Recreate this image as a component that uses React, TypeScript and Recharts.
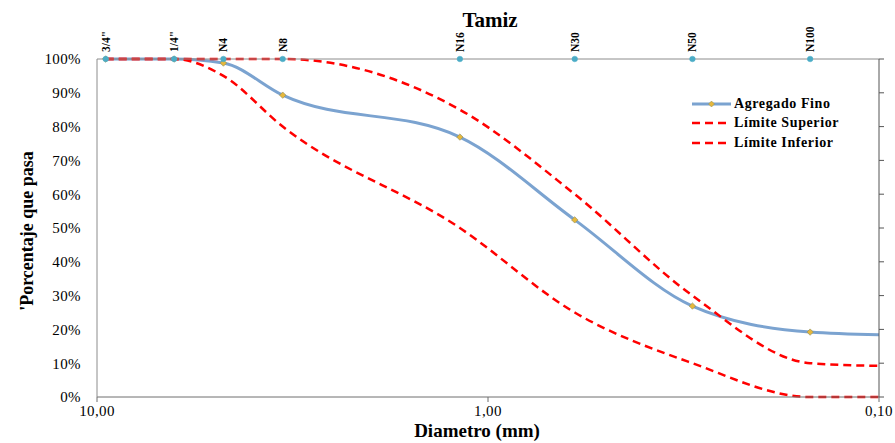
import React from 'react';
import { ComposedChart, Line, XAxis, YAxis, Legend, Customized } from 'recharts';

// Sieve sizes (mm) and names shown on the top axis
const sieveSizes = [9.5, 6.35, 4.75, 3.35, 1.18, 0.6, 0.3, 0.15];
const sieveNames = ['3/4"', '1/4"', 'N4', 'N8', 'N16', 'N30', 'N50', 'N100'];

// Diameters (mm) where the curves are sampled
const diameters = [9.5, 6.35, 4.75, 3.35, 1.18, 0.6, 0.3, 0.15, 0.1];
const agregadoFino = [100, 100, 98.8, 89.3, 76.9, 52.4, 26.9, 19.2, 18.4];
const limiteSuperior = [100, 100, 100, 100, 85, 60, 30, 10, 9.2];
const limiteInferior = [100, 100, 95, 80, 50, 25, 10, 0, 0];
const tamizMarker = [100, 100, 100, 100, 100, 100, 100, 100, null];

const xTicks = [10, 1, 0.1];
const yTicks = [0, 10, 20, 30, 40, 50, 60, 70, 80, 90, 100];

const data = diameters.map((d, i) => ({
  d,
  fino: agregadoFino[i],
  sup: limiteSuperior[i],
  inf: limiteInferior[i],
  tamiz: tamizMarker[i],
}));

const legendItems = [
  { name: 'Agregado Fino', color: '#7ba3d0', dashed: false },
  { name: 'Límite Superior', color: '#ff0000', dashed: true },
  { name: 'Límite Inferior', color: '#ff0000', dashed: true },
];

const SERIF = '"Liberation Serif", "Times New Roman", serif';

const TopTick = (props: any) => {
  const { x, payload } = props;
  const idx = sieveSizes.indexOf(payload.value);
  const label = idx >= 0 ? sieveNames[idx] : '';
  const y = 52;
  return (
    <text
      x={x}
      y={y}
      transform={`rotate(-90, ${x}, ${y})`}
      textAnchor="start"
      dominantBaseline="central"
      fontFamily={SERIF}
      fontWeight="bold"
      fontSize={11.5}
      fill="#000"
    >
      {label}
    </text>
  );
};

const FinoDot = (props: any) => {
  const { cx, cy, index } = props;
  if (index === diameters.length - 1 || cx == null) return <g key={`fd-${index}`} />;
  return (
    <path
      key={`fd-${index}`}
      d={`M${cx},${cy - 3.2} L${cx + 3.2},${cy} L${cx},${cy + 3.2} L${cx - 3.2},${cy} Z`}
      fill="#e6b83c"
      stroke="#8a8a5a"
      strokeWidth={0.6}
    />
  );
};

const LegendContent = () => (
  <div style={{ fontFamily: SERIF }}>
    {legendItems.map((it) => (
      <div key={it.name} style={{ display: 'flex', alignItems: 'center', height: 19.5 }}>
        <svg width={42} height={10} style={{ display: 'block' }}>
          <line
            x1={1}
            y1={5}
            x2={40}
            y2={5}
            stroke={it.color}
            strokeWidth={it.dashed ? 2.5 : 3}
            strokeDasharray={it.dashed ? '8 5' : undefined}
          />
          {!it.dashed && (
            <path d="M20.5,2 L23.5,5 L20.5,8 L17.5,5 Z" fill="#e6b83c" stroke="#8a8a5a" strokeWidth={0.5} />
          )}
        </svg>
        <span style={{ fontWeight: 'bold', fontSize: 14, letterSpacing: 0.6, color: '#000', marginLeft: 1 }}>
          {it.name}
        </span>
      </div>
    ))}
  </div>
);

const Titles = () => (
  <g fontFamily={SERIF} fontWeight="bold" fill="#000">
    <text x={490} y={27} textAnchor="middle" fontSize={21}>
      Tamiz
    </text>
    <text x={477} y={437} textAnchor="middle" fontSize={19}>
      Diametro (mm)
    </text>
    <text
      x={27}
      y={231}
      transform="rotate(-90, 27, 231)"
      textAnchor="middle"
      dominantBaseline="central"
      fontSize={18}
    >
      'Porcentaje que pasa
    </text>
  </g>
);

export default function App() {
  return (
    <div style={{ position: 'absolute', left: 0, top: 0, width: 895, height: 443, background: '#fff' }}>
      <ComposedChart width={895} height={443} data={data} margin={{ top: 0, right: 0, left: 0, bottom: 0 }}>
        <XAxis
          dataKey="d"
          type="number"
          scale="log"
          domain={[0.1, 10]}
          reversed
          allowDataOverflow
          ticks={xTicks}
          interval={0}
          tickFormatter={(v: number) => v.toFixed(2).replace('.', ',')}
          height={46}
          tickSize={5}
          tickMargin={3}
          axisLine={{ stroke: '#6e6e6e' }}
          tickLine={{ stroke: '#6e6e6e' }}
          tick={{ fontFamily: SERIF, fontSize: 15, fill: '#000', letterSpacing: 0.4 }}
        />
        <XAxis
          xAxisId="top"
          dataKey="d"
          type="number"
          scale="log"
          domain={[0.1, 10]}
          reversed
          allowDataOverflow
          orientation="top"
          ticks={sieveSizes}
          interval={0}
          height={59}
          tickLine={false}
          axisLine={{ stroke: '#8c8c8c' }}
          tick={<TopTick />}
        />
        <YAxis
          type="number"
          domain={[0, 100]}
          ticks={yTicks}
          interval={0}
          width={97}
          tickFormatter={(v: number) => `${v}%`}
          tickLine={false}
          tickSize={6}
          tickMargin={10}
          axisLine={{ stroke: '#8c8c8c' }}
          tick={{ fontFamily: SERIF, fontSize: 15, fill: '#000', letterSpacing: 0.4 }}
        />
        <YAxis
          yAxisId="right"
          orientation="right"
          type="number"
          domain={[0, 100]}
          ticks={yTicks}
          interval={0}
          width={16}
          tickSize={5}
          tickFormatter={() => ''}
          axisLine={{ stroke: '#555' }}
          tickLine={{ stroke: '#555' }}
        />
        <Line
          dataKey="fino"
          name="Agregado Fino"
          type="monotone"
          stroke="#7ba3d0"
          strokeWidth={3}
          dot={<FinoDot />}
          activeDot={false}
          isAnimationActive={false}
        />
        <Line
          dataKey="sup"
          name="Límite Superior"
          type="monotone"
          stroke="#ff0000"
          strokeWidth={2.5}
          strokeDasharray="8 5"
          dot={false}
          activeDot={false}
          isAnimationActive={false}
        />
        <Line
          dataKey="inf"
          name="Límite Inferior"
          type="monotone"
          stroke="#ff0000"
          strokeWidth={2.5}
          strokeDasharray="8 5"
          dot={false}
          activeDot={false}
          isAnimationActive={false}
        />
        <Line
          dataKey="tamiz"
          name="Tamiz"
          xAxisId="top"
          yAxisId="right"
          stroke="none"
          strokeWidth={0}
          legendType="none"
          dot={{ r: 2.8, fill: '#4bacc6', stroke: '#4bacc6', strokeWidth: 0.5 }}
          activeDot={false}
          isAnimationActive={false}
        />
        <Legend
          layout="horizontal"
          verticalAlign="middle"
          align="center"
          content={<LegendContent />}
          wrapperStyle={{ position: 'absolute', left: 691, top: 94, width: 180 }}
        />
        <Customized component={<Titles />} />
      </ComposedChart>
    </div>
  );
}
